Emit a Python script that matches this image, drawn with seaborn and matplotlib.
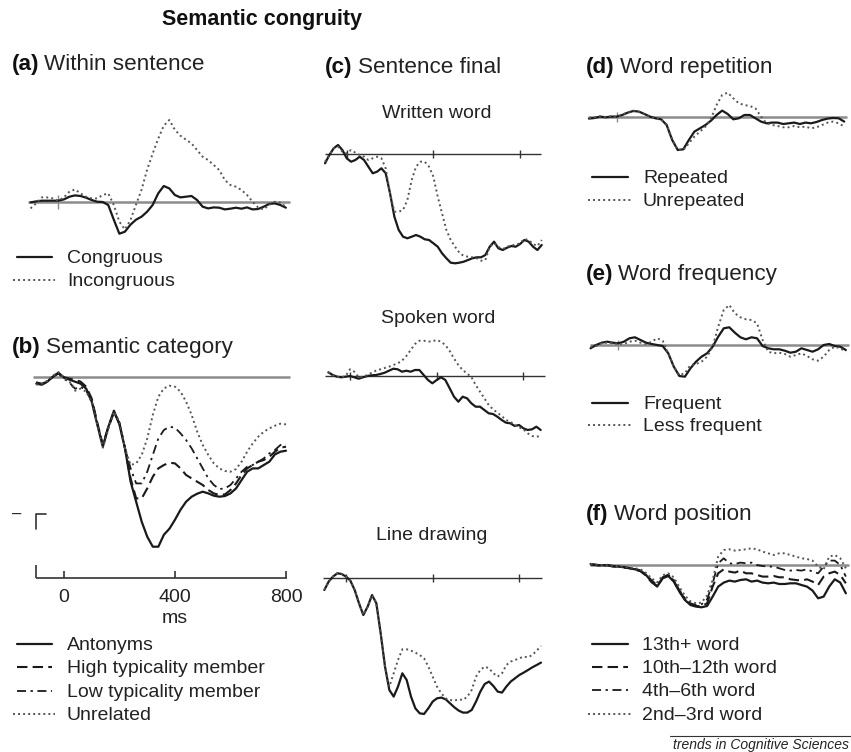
import matplotlib
matplotlib.use("Agg")
import matplotlib.pyplot as plt
import seaborn as sns

# ---------------- data (values in µV-like units) ----------------
TIME_A = list(range(-100, 821, 20))
CONGRUOUS = [-0.7, 0.3, 1, 1, 1, 1, 2.3, 5, 6.3, 5.7,
             4, 1.7, 0, -0.3, -3.3, -18, -32, -30, -23, -18,
             -15, -10, -3.3, 8.3, 15.7, 13.3, 6.7, 4.3, 5, 5.7,
             1.7, -5, -6.7, -5.7, -6, -7.7, -7, -6, -7, -5.7,
             -7.7, -7.3, -5, -2.3, -1.7, -3.3, -6]
INCONGRUOUS = [-6.7, -1.7, 4.3, 4.3, 3.3, 1, 4.3, 10, 12.3, 8.3,
               5, 3.3, 3.3, 6.7, 8.3, -3.3, -20, -27.7, -18.3, -3,
               12, 32, 48, 63, 76, 81.7, 72, 66, 62, 58.3,
               51.7, 45, 41.7, 36.7, 31.7, 21.7, 16.7, 15, 11.7, 6.7,
               0, -5.7, -7.7, -3.3, 0, -1, -5]

TIME_B = list(range(-100, 801, 20))
ANTONYMS = [-7, -8, -5, 0, 4, -1, -3, -5, -7, -12,
            -25, -48, -70, -50, -34, -48, -72, -105, -125, -145,
            -160, -170, -170, -158, -152, -143, -133, -125, -120, -117,
            -115, -116.7, -119, -120, -119.3, -116.7, -111.7, -103.3, -95, -91.7,
            -91.7, -88.3, -85, -77.7, -75, -74]
HIGH_TYP = [-6, -7.5, -5, 0, 3.5, -0.5, -2, -3, -5, -10,
            -22, -46, -68, -50, -35, -47, -72, -101.7, -121.7, -121.7,
            -111.7, -100, -91.7, -88.3, -86, -86.7, -91.7, -98.3, -101.7, -105,
            -108.3, -113.3, -116.7, -118.3, -117.7, -113.3, -106.7, -98.3, -91.7, -88.3,
            -85, -83.3, -80, -75, -71, -70]
LOW_TYP = [-5.5, -7, -4.5, 0.5, 3, -2, -6, -12, -10, -14,
           -24, -47, -69, -51, -36, -46, -72, -91.7, -106.7, -106.7,
           -95, -78.3, -61.7, -53.3, -50, -51, -56.7, -63.3, -71.7, -81.7,
           -91.7, -101.7, -108.3, -112.3, -111.7, -108.3, -101.7, -95, -90, -88.3,
           -85, -81.7, -76.7, -73.3, -68.3, -67.7]
UNRELATED = [-8, -7, -4, 1, 4.5, -1, -5, -14, -12, -15,
             -26, -48, -71, -52, -35, -45, -71.7, -88.3, -86.7, -78.3,
             -61.7, -38.3, -20, -11.7, -9, -10, -15, -25, -38.3, -55,
             -68.3, -78.3, -86.7, -91.7, -94.3, -95, -92.3, -85, -75, -66.7,
             -60, -55, -51.7, -49, -47, -47.7]

TIME_C = list(range(-100, 901, 20))
WRITTEN_CONG = [-9.3, -1, 5.7, 9, 4, -4.3, -7.7, -6, -2.7, -6,
                -12.7, -19.3, -17.7, -14.3, -19.3, -39.3, -62.7, -76, -82.7, -84.3,
                -82.7, -81, -82.7, -85.3, -86, -89.3, -92.7, -99.3, -104.3, -108.7,
                -109.3, -108.7, -107.7, -106, -104.3, -103.3, -103.3, -101, -92.7, -87.7,
                -94.3, -96, -93.7, -92, -92.7, -90, -86, -87.7, -92.7, -96, -91]
WRITTEN_INCONG = [-7.7, -1, 5.7, 7.3, 2.3, 0.7, 4, 1.3, -1, -2.7,
                  -6, -4.3, -2.7, -4.3, -14.3, -39.3, -57.7, -57.7, -56, -46,
                  -26, -12.7, -7.7, -7.7, -12.7, -22.7, -42.7, -59.3, -76, -86,
                  -92.7, -98.7, -102, -102.7, -103.3, -104.3, -106.7, -106, -92.7, -89.3,
                  -93, -95, -93, -91, -91, -89, -85, -86, -90, -92, -86]

TIME_S = list(range(-100, 881, 20))
SPOKEN_CONG = [3.7, 1, -0.7, -1.3, -0.7, 0, -1.3, -2.7, -1.3, 0,
               0.7, 1, 2, 3.3, 5.3, 7.3, 6.7, 4.3, 5.3, 4.3,
               6, 6, 1, -4, -7.3, -4, -1.3, -4, -12.3, -20.7,
               -25.7, -20.7, -22.3, -27.3, -30.7, -30.7, -34, -37.3, -38, -40.7,
               -44, -46.7, -47.3, -50, -49, -52.3, -54, -53.3, -50.7, -54]
SPOKEN_INCONG = [3.7, 1, -0.7, -1.3, 0, 6.7, 4.3, -1.3, -0.7, 1,
                 3.3, 5.3, 6.7, 8, 9.3, 11, 12.7, 15.3, 20, 26,
                 32, 35.3, 35.3, 34.3, 34.7, 36, 34.3, 31, 25, 17.5,
                 11, 6, 2.5, -1, -9, -15.7, -22.3, -29, -33.3, -36.7,
                 -40, -44, -45.7, -49, -51.3, -53.3, -57.3, -60, -60.7, -60]

DRAWING_CONG = [-11.7, -3.3, 1.7, 5, 4.3, 1.7, -2.3, -11.7, -25, -36.7,
                -28.3, -16.7, -25, -55, -88.3, -111.7, -118.3, -108.3, -95, -101.7,
                -118.3, -130, -135, -135.7, -130, -123.3, -120, -119.3, -121, -125,
                -129, -132.3, -134.3, -134.3, -131.7, -123.3, -113.3, -105.7, -103.3, -107.7,
                -113.3, -114.3, -108.3, -103.3, -100, -96.7, -94.3, -91.7, -89, -86.7, -84.3]
DRAWING_INCONG = [-11.7, -3.3, 1.7, 5, 4.3, 1.7, -2.3, -11.7, -25, -36.7,
                  -28.3, -16.7, -25, -55, -88.3, -108.3, -95, -81.7, -71, -71,
                  -72.3, -74.3, -76.7, -80, -88.3, -98.3, -108.3, -115, -120, -121.7,
                  -122.3, -121, -121.7, -118.3, -111.7, -98.3, -91.7, -88.3, -90, -95,
                  -98.3, -95, -86.7, -83.3, -81.7, -80, -78.3, -79, -76.7, -72.3, -67.7]

TIME_D = list(range(-100, 821, 20))
REPEATED = [-1.3, -0.7, 0.7, 0, 0.7, 0.7, 2.3, 4.7, 6.3, 5.7,
            3.3, 0.7, -1, -2, -7.7, -22.7, -32.7, -32, -22.7, -14.3,
            -11, -7.7, -3.3, 2.3, 6.7, 3.3, -2, -1, 2.3, 2.3,
            -1, -4.3, -6, -5.3, -5.3, -6.7, -6, -5.3, -6.7, -5.3,
            -6, -4.7, -2.7, -1.3, -0.7, -1, -4.3]
UNREPEATED = [-0.7, -0.3, 1, 0.3, 1, 0.5, 2.7, 5, 6.7, 5.3,
              3, 0.3, -1.3, -2.3, -7.3, -22, -32.3, -32.7, -26, -19.3,
              -14.3, -9.3, -1, 12.3, 22.3, 24.7, 19, 14, 12.3, 11.3,
              9, 0.7, -6, -7.7, -8.7, -10, -10, -8.7, -10, -9.3,
              -11, -10, -7.7, -5.3, -4.3, -6, -9.3]

FREQUENT = [-3.3, 0, 2.3, 3.3, 2.3, 1.7, 3.3, 6.7, 7.7, 5,
            2.3, 1, 0, -1, -8.3, -21.7, -31, -31.7, -23.3, -16.7,
            -11.7, -8.3, -1.7, 8.3, 16.7, 17.7, 12.3, 7.7, 5.7, 7.7,
            6.7, -1, -3.3, -4.3, -4.3, -5.7, -7.7, -6.7, -3.3, -5,
            -6.7, -4.3, 0, 1, -1, -1.7, -5]
LESS_FREQUENT = [-1.7, -1, 1.7, 2.3, 1.7, 1, 1, 3.3, 4.3, 2.3,
                 1, 3.3, 6.7, 4.3, -8.3, -21.7, -30, -28.3, -20, -19,
                 -16.7, -11.7, -1.7, 18.3, 35, 40, 31.7, 27.7, 25.7, 25,
                 21.7, 5, -6.7, -8.3, -7.7, -9, -11.7, -10, -8.3, -11,
                 -14.3, -15.7, -11.7, -5, -1.7, -3.3, -6.7]

POS_13 = [1.3, 0.3, 0, 0.3, -0.7, -1.3, -2, -3, -4, -5.3,
          -9.7, -16.3, -21.3, -13, -10.7, -16.3, -26.3, -34.7, -39.7, -41.3,
          -42, -40.7, -31.3, -21.3, -17.3, -15.3, -16.3, -14.7, -14, -16.3,
          -15.3, -17.3, -18, -17.3, -18.7, -18.7, -18, -18, -19.7, -21.3,
          -25.3, -33, -31.3, -21.3, -14, -17.3, -28]
POS_10 = [1, 0.5, -0.3, 0, -1, -1.5, -1.7, -2.7, -4.3, -6,
          -10.3, -17, -20.7, -12.3, -10, -15.7, -25.7, -34, -39, -40.7,
          -41, -38, -21.3, -8, -4, -6.3, -7.3, -5.3, -8, -8,
          -9.7, -11.3, -11.3, -10.7, -12, -12, -14, -14.7, -15.3, -14,
          -16.3, -19.7, -11.3, -8, -6.3, -9.7, -18]
POS_4 = [0.7, 0, -0.5, -0.3, -1.3, -1, -2.3, -3.3, -3.7, -5,
         -9, -15, -19.7, -12, -9.3, -14.7, -24.7, -33, -38, -39.7,
         -39, -34, -18, 2, 7, 2, 1.3, 2.7, 2, 2.7,
         0.3, -0.7, -1.3, -1.3, -3, -4.7, -5.3, -4.7, -5.3, -4,
         -6.3, -8, -1.3, 4.7, 4.7, 0.3, -11.3]
POS_2 = [1.5, 0.7, 0.3, 0, -0.3, -1, -1.3, -2.3, -3, -4,
         -7.7, -13, -17, -10, -8, -12, -21.7, -30.3, -36, -38,
         -37.3, -30, -14.7, 8.7, 15.3, 16, 14.7, 15.3, 16, 17,
         16, 13.7, 12, 10.3, 12, 12, 10.3, 8.7, 7, 6.3,
         4.7, -1.3, -4, 8.7, 10.3, 7, -3]

LEGEND_A = ["Congruous", "Incongruous"]
LEGEND_B = ["Antonyms", "High typicality member", "Low typicality member", "Unrelated"]
LEGEND_D = ["Repeated", "Unrepeated"]
LEGEND_E = ["Frequent", "Less frequent"]
LEGEND_F = ["13th+ word", "10th\u201312th word", "4th\u20136th word", "2nd\u20133rd word"]
B_TICKS = [0, 400, 800]

# ---------------- styles ----------------
sns.set_theme(style="white")
plt.rcParams["font.family"] = ["Liberation Sans", "DejaVu Sans"]

INK = "#1a1a1a"
STY = {
    "solid": dict(color=INK, linewidth=1.6, linestyle="-"),
    "dashed": dict(color=INK, linewidth=1.5, linestyle=(0, (5, 2.5))),
    "dashdot": dict(color=INK, linewidth=1.3, linestyle=(0, (5, 2.5, 1.3, 2.5))),
    "dotted": dict(color="#555555", linewidth=1.4, linestyle=(0, (1, 1.6))),
}
BASE_GREY = dict(color="#8c8c8c", linewidth=1.8)
BASE_DARK = dict(color="#333333", linewidth=1.0)

W, H = 851, 752
fig = plt.figure(figsize=(W / 100, H / 100), dpi=100)
fig.patch.set_facecolor("white")
bg = fig.add_axes([0, 0, 1, 1])
bg.set_xlim(0, W)
bg.set_ylim(H, 0)
bg.set_axis_off()


def make_ax(x0, s, base, tmin=-150, tmax=950, vmin=-215, vmax=100):
    left = x0 + s * tmin
    width = s * (tmax - tmin)
    bottom_px = base - vmin
    ax = fig.add_axes([left / W, 1 - bottom_px / H, width / W, (vmax - vmin) / H])
    ax.set_xlim(tmin, tmax)
    ax.set_ylim(vmin, vmax)
    ax.set_axis_off()
    return ax


def wave(ax, t, v, style):
    sns.lineplot(x=t, y=v, ax=ax, errorbar=None, legend=False, sort=False, **STY[style])


def baseline(ax, t0, t1, ticks, tick_h, kw):
    ax.hlines(0, t0, t1, **kw)
    for tk in ticks:
        ax.vlines(tk, -tick_h, tick_h, color=kw["color"], linewidth=1.0)


def legend(x_line, x_text, ys, labels, styles, size=14):
    for y, lab, st in zip(ys, labels, styles):
        k = STY[st]
        x1 = x_line[0] - (4 if st == "dotted" else 0)
        x2 = x_line[1] + (3 if st == "dotted" else 0)
        bg.plot([x1, x2], [y - 6, y - 6], color=k["color"], linewidth=k["linewidth"],
                linestyle=k["linestyle"])
        bg.text(x_text, y, lab, fontsize=size, va="baseline", ha="left", color="#222222")


fig.canvas.draw()
renderer = fig.canvas.get_renderer()


def title(x, y, tag, rest, size=16.2):
    t1 = bg.text(x, y, tag, fontsize=size, fontweight="bold", va="baseline", ha="left", color="#111111")
    bb = t1.get_window_extent(renderer=renderer)
    bg.text(bb.x1 + 5, y, rest, fontsize=size, va="baseline", ha="left", color="#222222")


# ---------------- titles ----------------
bg.text(162, 25, "Semantic congruity", fontsize=15.5, fontweight="bold", va="baseline", ha="left", color="#111111")
title(12, 70, "(a)", "Within sentence")
title(12, 353, "(b)", "Semantic category")
title(325, 73, "(c)", "Sentence final")
title(586, 73, "(d)", "Word repetition")
title(586, 280, "(e)", "Word frequency")
title(586, 520, "(f)", "Word position")
bg.text(437, 118, "Written word", fontsize=14, ha="center", va="baseline", color="#222222")
bg.text(438, 323, "Spoken word", fontsize=14, ha="center", va="baseline", color="#222222")
bg.text(432, 540, "Line drawing", fontsize=14, ha="center", va="baseline", color="#222222")

# ---------------- panel a ----------------
ax_a = make_ax(58.3, 0.2775, 201.7)
baseline(ax_a, -109, 835, [0], 7, BASE_GREY)
wave(ax_a, TIME_A, CONGRUOUS, "solid")
wave(ax_a, TIME_A, INCONGRUOUS, "dotted")
legend((17, 52), 67, [263, 286], LEGEND_A, ["solid", "dotted"])

# ---------------- panel b ----------------
ax_b = make_ax(64, 0.2775, 376.7)
baseline(ax_b, -111, 815, [], 0, BASE_GREY)
wave(ax_b, TIME_B, ANTONYMS, "solid")
wave(ax_b, TIME_B, HIGH_TYP, "dashed")
wave(ax_b, TIME_B, LOW_TYP, "dashdot")
wave(ax_b, TIME_B, UNRELATED, "dotted")
axis_v = 376.7 - 578
ax_b.hlines(axis_v, -100, 805, color="#333333", linewidth=1.2)
ax_b.vlines(-100, axis_v, axis_v + 13, color="#333333", linewidth=1.2)
for tk in B_TICKS:
    ax_b.vlines(tk, axis_v, axis_v + 7, color="#333333", linewidth=1.2)
    ax_b.text(tk, 376.7 - 601.7, str(tk), fontsize=14, ha="center", va="baseline", color="#222222")
ax_b.text(400, 376.7 - 623, "ms", fontsize=14, ha="center", va="baseline", color="#222222")
# calibration mark
bg.plot([36, 36, 46], [529, 514, 514], color="#333333", linewidth=1.2)
bg.text(17, 514, "\u2013", fontsize=12, ha="center", va="center", color="#222222")
legend((17, 52), 67, [650, 673, 697, 720], LEGEND_B, ["solid", "dashed", "dashdot", "dotted"])

# ---------------- panel c ----------------
ax_c1 = make_ax(346.7, 0.2167, 154)
baseline(ax_c1, -100, 896, [0, 400, 800], 4, BASE_DARK)
wave(ax_c1, TIME_C, WRITTEN_CONG, "solid")
wave(ax_c1, TIME_C, WRITTEN_INCONG, "dotted")

ax_c2 = make_ax(350, 0.2167, 376)
baseline(ax_c2, -115, 900, [0, 400, 800], 4, BASE_DARK)
wave(ax_c2, TIME_S, SPOKEN_CONG, "solid")
wave(ax_c2, TIME_S, SPOKEN_INCONG, "dotted")

ax_c3 = make_ax(346, 0.2167, 578.3)
baseline(ax_c3, -106, 905, [0, 400, 800], 4, BASE_DARK)
wave(ax_c3, TIME_C, DRAWING_CONG, "solid")
wave(ax_c3, TIME_C, DRAWING_INCONG, "dotted")

# ---------------- panel d ----------------
ax_d = make_ax(616.7, 0.2775, 117.3)
baseline(ax_d, -103, 830, [0], 5, BASE_GREY)
wave(ax_d, TIME_D, REPEATED, "solid")
wave(ax_d, TIME_D, UNREPEATED, "dotted")
legend((592, 628), 643, [183, 206], LEGEND_D, ["solid", "dotted"])

# ---------------- panel e ----------------
ax_e = make_ax(618.3, 0.2775, 345)
baseline(ax_e, -103, 831, [0], 5, BASE_GREY)
wave(ax_e, TIME_D, FREQUENT, "solid")
wave(ax_e, TIME_D, LESS_FREQUENT, "dotted")
legend((592, 628), 643, [409, 431], LEGEND_E, ["solid", "dotted"])

# ---------------- panel f ----------------
ax_f = make_ax(618.3, 0.2775, 565.3)
baseline(ax_f, -103, 831, [], 0, BASE_GREY)
wave(ax_f, TIME_D, POS_13, "solid")
wave(ax_f, TIME_D, POS_10, "dashed")
wave(ax_f, TIME_D, POS_4, "dashdot")
wave(ax_f, TIME_D, POS_2, "dotted")
legend((592, 628), 642, [650, 673, 696, 720], LEGEND_F, ["solid", "dashed", "dashdot", "dotted"])

# ---------------- footer ----------------
bg.plot([670, 851], [736, 736], color="#333333", linewidth=0.8)
bg.text(849, 749, "trends in Cognitive Sciences", fontsize=10, style="italic", ha="right",
        va="baseline", color="#222222")

fig.savefig("out.png", dpi=100, facecolor="white")
